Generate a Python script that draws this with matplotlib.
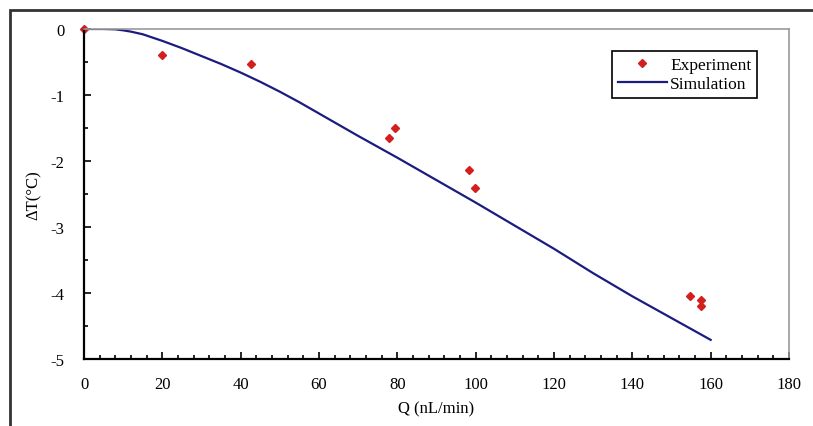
import matplotlib.pyplot as plt
from matplotlib.patches import Rectangle
from matplotlib.ticker import MultipleLocator

plt.rcParams['font.family'] = ['Liberation Serif', 'DejaVu Serif']
plt.rcParams['axes.unicode_minus'] = False

# measured points
q_exp = [0, 20, 42.6, 77.9, 79.4, 98.3, 99.8, 154.7, 157.5, 157.5]
dt_exp = [0, -0.39, -0.53, -1.65, -1.5, -2.14, -2.41, -4.04, -4.1, -4.19]

# simulation curve
q_sim = [0, 5, 8, 10, 12, 15, 18, 20, 25, 30, 35, 40, 45, 50, 55, 60, 70,
         80, 90, 100, 110, 120, 130, 140, 150, 160]
dt_sim = [0, 0, -0.005, -0.02, -0.04, -0.08, -0.14, -0.18, -0.29, -0.41,
          -0.53, -0.66, -0.80, -0.95, -1.11, -1.28, -1.62, -1.95, -2.29,
          -2.63, -2.98, -3.33, -3.70, -4.05, -4.38, -4.71]

fig = plt.figure(figsize=(8.13, 4.27), dpi=100)
fig.patches.append(Rectangle((10 / 813, -0.1), 1.2, 1 - 11 / 427 + 0.1,
                             transform=fig.transFigure, fill=False,
                             edgecolor='#333333', linewidth=2))
ax = fig.add_axes([84 / 813, 1 - 360 / 427, 705 / 813, 330 / 427])

ax.plot(q_sim, dt_sim, color='#1c1c80', linewidth=1.6, label='Simulation')
ax.plot(q_exp, dt_exp, linestyle='none', marker='D', markersize=4.5,
        color='#d41f1f', label='Experiment', clip_on=False)

ax.set_xlim(0, 180)
ax.set_ylim(-5, 0)
ax.xaxis.set_major_locator(MultipleLocator(20))
ax.xaxis.set_minor_locator(MultipleLocator(4))
ax.yaxis.set_major_locator(MultipleLocator(1))
ax.yaxis.set_minor_locator(MultipleLocator(0.5))
ax.tick_params(which='both', direction='in', labelsize=12, width=1.2)
ax.tick_params(which='major', length=5)
ax.tick_params(which='minor', length=3)
ax.tick_params(axis='x', pad=12)
ax.tick_params(axis='y', pad=14)

for s in ['left', 'bottom']:
    ax.spines[s].set_linewidth(1.6)
for s in ['top', 'right']:
    ax.spines[s].set_color('#999999')
    ax.spines[s].set_linewidth(1.2)

ax.set_xlabel('Q (nL/min)', fontsize=12, labelpad=6)
ax.set_ylabel('ΔT(°C)', fontsize=12, labelpad=6)

h, l = ax.get_legend_handles_labels()
leg = ax.legend(h[::-1], l[::-1], loc='upper left',
                bbox_to_anchor=(612 / 813, 1 - 52 / 427),
                bbox_transform=fig.transFigure, fontsize=12.5,
                fancybox=False, framealpha=1, edgecolor='black',
                handlelength=2.8, borderpad=0.35, labelspacing=0.15,
                handletextpad=0.2, borderaxespad=0)
leg.get_frame().set_linewidth(1.2)

fig.savefig('out.png', dpi=100)
